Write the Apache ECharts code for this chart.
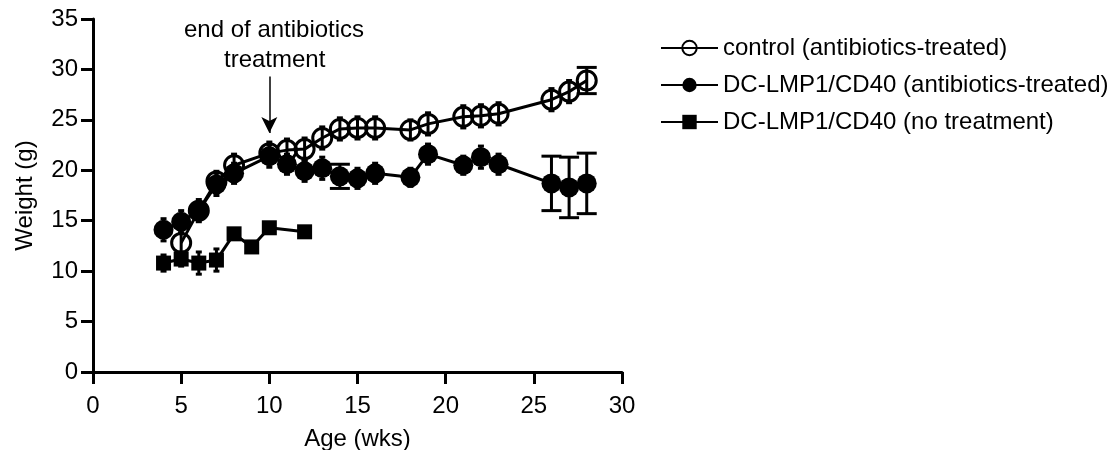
<!DOCTYPE html>
<html>
<head>
<meta charset="utf-8">
<script src="https://cdn.jsdelivr.net/npm/echarts@6/dist/echarts.min.js"></script>
<style>
  html, body { margin: 0; padding: 0; background: #fff; }
  #main { width: 1120px; height: 450px; }
</style>
</head>
<body>
<div id="main"></div>
<script>
// age in weeks, weight in g, error = SEM
let ctrlAge = [5, 6, 7, 8, 10, 11, 12, 13, 14, 15, 16, 18, 19, 21, 22, 23, 26, 27, 28];
let ctrlWt  = [12.8, 16.0, 18.9, 20.5, 21.7, 22.0, 22.1, 23.2, 24.1, 24.2, 24.2, 24.0, 24.6, 25.3, 25.4, 25.6, 27.0, 27.8, 28.9];
let ctrlErr = [1.0, 0.9, 1.0, 1.1, 1.1, 1.1, 1.1, 1.1, 1.1, 1.1, 1.1, 1.0, 1.1, 1.1, 1.1, 1.1, 1.1, 1.1, 1.3];

let abxAge = [4, 5, 6, 7, 8, 10, 11, 12, 13, 14, 15, 16, 18, 19, 21, 22, 23, 26, 27, 28];
let abxWt  = [14.1, 14.9, 16.0, 18.6, 19.7, 21.4, 20.6, 19.9, 20.2, 19.4, 19.2, 19.7, 19.3, 21.6, 20.5, 21.3, 20.6, 18.7, 18.3, 18.7];
let abxErr = [1.1, 1.1, 1.1, 1.1, 1.0, 1.1, 1.0, 1.0, 1.1, 1.2, 1.0, 1.0, 0.9, 1.0, 0.9, 1.1, 1.0, 2.7, 3.0, 3.0];

let untAge = [4, 5, 6, 7, 8, 9, 10, 12];
let untWt  = [10.8, 11.2, 10.8, 11.1, 13.7, 12.4, 14.3, 13.9];
let untErr = [0.8, 0.7, 1.1, 1.1, 0.4, 0.4, 0.4, 0.4];

let names = ['control (antibiotics-treated)', 'DC-LMP1/CD40 (antibiotics-treated)', 'DC-LMP1/CD40 (no treatment)'];
let treatEnd = 10;

let font = "'Liberation Sans', Arial, sans-serif";

function pts(xs, ys) { return xs.map(function (x, i) { return [x, ys[i]]; }); }
function errPts(xs, ys, es) { return xs.map(function (x, i) { return [x, ys[i], es[i]]; }); }

function errBars(params, api) {
    let x = api.value(0), y = api.value(1), e = api.value(2);
    let top = api.coord([x, y + e]);
    let bot = api.coord([x, y - e]);
    let hw = e > 1.15 ? 10 : 3;
    let st = { stroke: '#000', lineWidth: 3 };
    return {
        type: 'group',
        children: [
            { type: 'line', shape: { x1: top[0], y1: top[1], x2: bot[0], y2: bot[1] }, style: st },
            { type: 'line', shape: { x1: top[0] - hw, y1: top[1], x2: top[0] + hw, y2: top[1] }, style: st },
            { type: 'line', shape: { x1: bot[0] - hw, y1: bot[1], x2: bot[0] + hw, y2: bot[1] }, style: st }
        ]
    };
}

let myChart = echarts.init(document.getElementById('main'));

let option = {
    animation: false,
    textStyle: { fontFamily: font },
    grid: { left: 93, right: 498, top: 19, bottom: 78, containLabel: false, outerBoundsMode: 'none' },
    legend: {
        orient: 'vertical',
        left: 655,
        top: 31,
        itemWidth: 57,
        itemHeight: 18,
        itemGap: 13,
        textStyle: { fontSize: 24, color: '#000', fontFamily: font },
        data: names
    },
    graphic: [
        {
            type: 'text',
            left: 184, top: 18,
            style: { text: 'end of antibiotics', font: "24px " + font, fill: '#000' }
        },
        {
            type: 'text',
            left: 224, top: 48,
            style: { text: 'treatment', font: "24px " + font, fill: '#000' }
        }
    ],
    xAxis: {
        type: 'value',
        min: 0, max: 30, interval: 5,
        name: 'Age (wks)',
        nameLocation: 'middle',
        nameGap: 55,
        nameTextStyle: { fontSize: 24, color: '#000' },
        axisLine: { lineStyle: { color: '#000', width: 3 } },
        axisTick: { length: 12, lineStyle: { width: 3, color: '#000' } },
        axisLabel: { fontSize: 24, color: '#000', margin: 22 },
        splitLine: { show: false }
    },
    yAxis: {
        type: 'value',
        min: 0, max: 35, interval: 5,
        name: 'Weight (g)',
        nameLocation: 'middle',
        nameGap: 56,
        nameTextStyle: { fontSize: 24, color: '#000' },
        axisLine: { show: true, lineStyle: { color: '#000', width: 3 } },
        axisTick: { show: true, length: 12, lineStyle: { width: 3, color: '#000' } },
        axisLabel: { fontSize: 24, color: '#000', margin: 15 },
        splitLine: { show: false }
    },
    series: [
        {
            type: 'custom', name: 'err0', renderItem: errBars, z: 2,
            data: errPts(ctrlAge, ctrlWt, ctrlErr)
        },
        {
            name: names[0], type: 'line', z: 3,
            data: pts(ctrlAge, ctrlWt),
            symbol: 'circle', symbolSize: 19,
            lineStyle: { color: '#000', width: 3 },
            itemStyle: { color: 'rgba(255,255,255,0)', borderColor: '#000', borderWidth: 3 },
            markLine: {
                silent: true,
                symbol: ['none', 'arrow'],
                symbolSize: [12, 16],
                label: { show: false },
                lineStyle: { color: '#000', width: 1.5, type: 'solid' },
                data: [[{ coord: [treatEnd, 29.3] }, { coord: [treatEnd, 23.7] }]]
            }
        },
        {
            type: 'custom', name: 'err1', renderItem: errBars, z: 4,
            data: errPts(abxAge, abxWt, abxErr)
        },
        {
            name: names[1], type: 'line', z: 5,
            data: pts(abxAge, abxWt),
            symbol: 'circle', symbolSize: 20,
            lineStyle: { color: '#000', width: 3 },
            itemStyle: { color: '#000' }
        },
        {
            type: 'custom', name: 'err2', renderItem: errBars, z: 6,
            data: errPts(untAge, untWt, untErr)
        },
        {
            name: names[2], type: 'line', z: 7,
            data: pts(untAge, untWt),
            symbol: 'rect', symbolSize: 15,
            lineStyle: { color: '#000', width: 3 },
            itemStyle: { color: '#000' }
        }
    ]
};

myChart.setOption(option, true);
</script>
</body>
</html>
